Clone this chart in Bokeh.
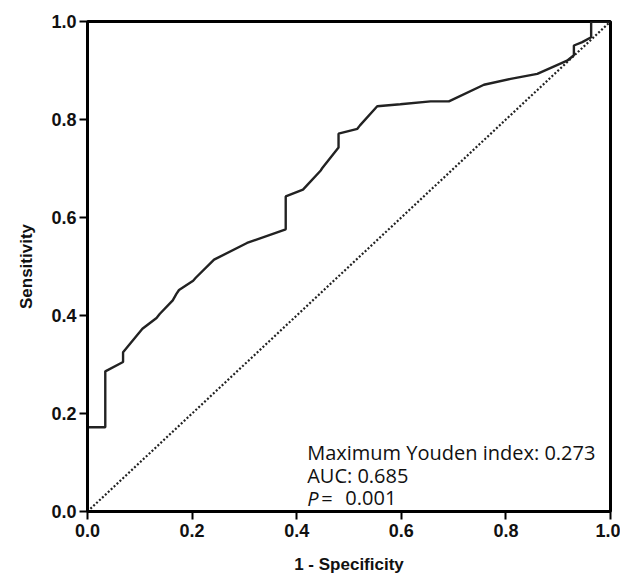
from bokeh.plotting import figure
from bokeh.models import Range1d, Label, FixedTicker
from bokeh.embed import file_html
from bokeh.resources import INLINE

# ROC curve data (1 - specificity, sensitivity)
fpr = [0, 0, 0.034, 0.034, 0.068, 0.068, 0.105, 0.132, 0.138, 0.163, 0.170, 0.175,
       0.202, 0.207, 0.242, 0.305, 0.379, 0.379, 0.412, 0.446, 0.449, 0.480, 0.480,
       0.516, 0.521, 0.554, 0.598, 0.656, 0.691, 0.758, 0.809, 0.860, 0.917, 0.930,
       0.930, 0.946, 0.963, 0.963, 1.0]
tpr = [0, 0.172, 0.172, 0.286, 0.305, 0.325, 0.373, 0.395, 0.403, 0.431, 0.444, 0.452,
       0.471, 0.477, 0.514, 0.548, 0.576, 0.643, 0.657, 0.696, 0.701, 0.743, 0.771,
       0.781, 0.788, 0.827, 0.831, 0.837, 0.837, 0.871, 0.883, 0.893, 0.920, 0.931,
       0.951, 0.958, 0.968, 1.0, 1.0]
ref_x = [0, 1]
ref_y = [0, 1]
ticks = [0.0, 0.2, 0.4, 0.6, 0.8, 1.0]
tick_labels = {0.0: "0.0", 0.2: "0.2", 0.4: "0.4", 0.6: "0.6", 0.8: "0.8", 1.0: "1.0"}
youden = "0.273"
auc = "0.685"
pval = "0.001"

p = figure(width=620, height=577, output_backend="svg", toolbar_location=None,
           x_range=Range1d(0, 1), y_range=Range1d(0, 1),
           min_border_left=87, min_border_right=10, min_border_top=21, min_border_bottom=66)

p.line(ref_x, ref_y, line_color="#222222", line_width=2.2, line_dash="2 2")
p.line(fpr, tpr, line_color="#222222", line_width=2.4)

p.grid.visible = False
p.outline_line_color = "black"
p.outline_line_width = 3
p.outline_line_alpha = 1

for ax in (p.xaxis[0], p.yaxis[0]):
    ax.ticker = FixedTicker(ticks=ticks)
    ax.major_label_overrides = tick_labels
    ax.axis_line_width = 3
    ax.axis_line_color = "black"
    ax.major_tick_line_width = 2
    ax.major_tick_line_color = "black"
    ax.major_tick_out = 8
    ax.major_tick_in = 0
    ax.minor_tick_line_color = None
    ax.major_label_text_font = "Liberation Sans"
    ax.major_label_text_font_style = "bold"
    ax.major_label_text_font_size = "18px"
    ax.major_label_text_color = "#111111"
    ax.axis_label_text_font = "Liberation Sans"
    ax.axis_label_text_font_style = "bold"
    ax.axis_label_text_font_size = "17px"
    ax.axis_label_text_color = "#111111"

p.xaxis.axis_label = "1 - Specificity"
p.yaxis.axis_label = "Sensitivity"
p.xaxis.major_label_standoff = 4
p.yaxis.major_label_standoff = 3
p.xaxis.axis_label_standoff = 15
p.yaxis.axis_label_standoff = 12

fs = "20px"
font = "Open Sans"
p.add_layout(Label(x=0.42, y=0.12, text="Maximum Youden index: " + youden, text_font=font,
                   text_font_size=fs, text_color="#111111", text_baseline="alphabetic"))
p.add_layout(Label(x=0.42, y=0.073, text="AUC: " + auc, text_font=font,
                   text_font_size=fs, text_color="#111111", text_baseline="alphabetic"))
p.add_layout(Label(x=0.42, y=0.027, text="P", text_font=font, text_font_style="italic",
                   text_font_size=fs, text_color="#111111", text_baseline="alphabetic"))
p.add_layout(Label(x=0.447, y=0.027, text="=", text_font=font,
                   text_font_size=fs, text_color="#111111", text_baseline="alphabetic"))
p.add_layout(Label(x=0.493, y=0.027, text=pval, text_font=font,
                   text_font_size=fs, text_color="#111111", text_baseline="alphabetic"))

open("out.html", "w").write(file_html(p, INLINE))
